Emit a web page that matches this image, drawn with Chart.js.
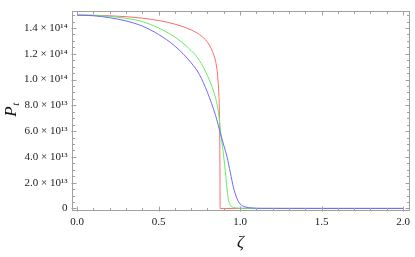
<!DOCTYPE html>
<html>
<head>
<meta charset="utf-8">
<script src="https://cdn.jsdelivr.net/npm/chart.js@4/dist/chart.umd.min.js"></script>
<style>
html,body{margin:0;padding:0;background:#fff;}
#wrap{position:relative;width:415px;height:257px;}
</style>
</head>
<body>
<div id="wrap"><canvas id="c" width="415" height="257"></canvas></div>
<script>
// ---- data ----
const zetaRed   = [0, 0.1, 0.2, 0.3, 0.4, 0.5, 0.6, 0.7, 0.75, 0.8, 0.83, 0.85, 0.86, 0.866, 0.87, 0.873, 0.875, 0.876, 0.877, 0.8775, 1.0, 1.5, 2.0];
const pRed      = [1.50e14, 1.499e14, 1.495e14, 1.488e14, 1.476e14, 1.458e14, 1.43e14, 1.385e14, 1.35e14, 1.29e14, 1.22e14, 1.14e14, 1.06e14, 0.97e14, 0.88e14, 0.78e14, 0.62e14, 0.45e14, 0.20e14, 0, 0, 0, 0];

const zetaGreen = [0, 0.1, 0.2, 0.3, 0.4, 0.5, 0.6, 0.7, 0.75, 0.8, 0.84, 0.86, 0.87, 0.88, 0.89, 0.9, 0.91, 0.92, 0.93, 0.94, 0.96, 1.0, 1.1, 1.5, 2.0];
const pGreen    = [1.50e14, 1.498e14, 1.49e14, 1.475e14, 1.45e14, 1.40e14, 1.33e14, 1.225e14, 1.15e14, 1.03e14, 0.90e14, 0.80e14, 0.72e14, 0.60e14, 0.50e14, 0.40e14, 0.28e14, 0.15e14, 0.06e14, 0.025e14, 0.008e14, 0.002e14, 0, 0, 0];

const zetaBlue  = [0, 0.1, 0.2, 0.3, 0.4, 0.5, 0.6, 0.7, 0.75, 0.8, 0.85, 0.88, 0.9, 0.92, 0.94, 0.96, 0.98, 1.0, 1.03, 1.07, 1.15, 1.5, 2.0];
const pBlue     = [1.50e14, 1.495e14, 1.48e14, 1.455e14, 1.415e14, 1.35e14, 1.26e14, 1.13e14, 1.04e14, 0.90e14, 0.72e14, 0.58e14, 0.49e14, 0.40e14, 0.28e14, 0.16e14, 0.08e14, 0.035e14, 0.012e14, 0.004e14, 0.0005e14, 0, 0];

const xTickValues = [0, 0.5, 1.0, 1.5, 2.0];
const xTickLabels = ['0.0', '0.5', '1.0', '1.5', '2.0'];
const yTickValues = [0, 2e13, 4e13, 6e13, 8e13, 1.0e14, 1.2e14, 1.4e14];
const yTickLabels = ['0', '2.0 \u00d7 10\u00b9\u00b3', '4.0 \u00d7 10\u00b9\u00b3', '6.0 \u00d7 10\u00b9\u00b3', '8.0 \u00d7 10\u00b9\u00b3', '1.0 \u00d7 10\u00b9\u2074', '1.2 \u00d7 10\u00b9\u2074', '1.4 \u00d7 10\u00b9\u2074'];
const xTitle = '\u03b6';
const yTitleMain = 'P';
const yTitleSub = 't';

function pts(xs, ys){ return xs.map((x,i)=>({x:x, y:ys[i]})); }

const FRAME = '#a0a0a0';
const SERIF = '"Liberation Serif","DejaVu Serif",serif';

const framePlugin = {
  id: 'frame',
  afterDatasetsDraw(chart){
    const ctx = chart.ctx, a = chart.chartArea;
    const xs = chart.scales.x, ys = chart.scales.y;
    ctx.save();
    ctx.strokeStyle = FRAME;
    ctx.lineWidth = 1;
    const L = Math.round(a.left)+0.5, R = Math.round(a.right)-0.5, T = Math.round(a.top)+0.5, B = Math.round(a.bottom)-0.5;
    ctx.strokeRect(L, T, R-L, B-T);
    ctx.beginPath();
    for (let k = 0; k <= 20; k++){
      const v = k/10;
      const px = Math.round(xs.getPixelForValue(v)) + 0.5;
      const major = (k % 5 === 0);
      const len = major ? 4 : 2.5;
      ctx.moveTo(px, B + (major?1:0)); ctx.lineTo(px, B - len);
      ctx.moveTo(px, T); ctx.lineTo(px, T + len);
    }
    for (let k = 0; k <= 30; k++){
      const v = k*0.5e13;
      const py = Math.round(ys.getPixelForValue(v)) + 0.5;
      if (py < T) continue;
      const major = (k % 4 === 0);
      const len = major ? 4 : 2.5;
      ctx.moveTo(L - (major?1:0), py); ctx.lineTo(L + len, py);
      ctx.moveTo(R, py); ctx.lineTo(R - len, py);
    }
    ctx.stroke();
    ctx.fillStyle = '#111';
    ctx.font = 'italic 17px ' + SERIF;
    ctx.textAlign = 'center';
    ctx.textBaseline = 'middle';
    ctx.fillText(xTitle, (a.left + a.right)/2, 243);
    ctx.translate(12, 110);
    ctx.rotate(-Math.PI/2);
    ctx.textAlign = 'left';
    ctx.font = 'italic 17px ' + SERIF;
    const w = ctx.measureText(yTitleMain).width;
    ctx.font = 'italic 11px ' + SERIF;
    const sw = ctx.measureText(yTitleSub).width;
    const start = -(w + sw)/2;
    ctx.font = 'italic 17px ' + SERIF;
    ctx.fillText(yTitleMain, start, 0);
    ctx.font = 'italic 11px ' + SERIF;
    ctx.fillText(yTitleSub, start + w + 0.5, 4);
    ctx.restore();
  }
};

const lineDs = (label, data, color) => ({
  label, data, borderColor: color, backgroundColor: color,
  borderWidth: 1, pointRadius: 0, fill: false,
  cubicInterpolationMode: 'monotone', showLine: true
});

new Chart(document.getElementById('c'), {
  type: 'scatter',
  data: {
    datasets: [
      lineDs('blue', pts(zetaBlue, pBlue), 'rgb(105,105,255)'),
      lineDs('green', pts(zetaGreen, pGreen), 'rgb(100,235,100)'),
      lineDs('red', pts(zetaRed, pRed), 'rgb(255,105,105)')
    ]
  },
  options: {
    responsive: false,
    animation: false,
    devicePixelRatio: 1,
    layout: { padding: { top: 1, right: 2, left: 0, bottom: 0 } },
    plugins: { legend: { display: false }, tooltip: { enabled: false } },
    scales: {
      x: {
        type: 'linear', min: -0.034, max: 2.04,
        grid: { display: false, drawTicks: false },
        border: { display: false },
        afterBuildTicks: s => { s.ticks = xTickValues.map(v => ({ value: v })); },
        afterFit: s => { s.height = 46; },
        ticks: {
          autoSkip: false, maxRotation: 0, padding: 5,
          color: '#222', font: { family: SERIF, size: 11 },
          callback: (v, i) => xTickLabels[i]
        }
      },
      y: {
        type: 'linear', min: -2e12, max: 1.535e14,
        grid: { display: false, drawTicks: false },
        border: { display: false },
        afterBuildTicks: s => { s.ticks = yTickValues.map(v => ({ value: v })); },
        afterFit: s => { s.width = 71.5; },
        ticks: {
          autoSkip: false, padding: 4,
          color: '#222', font: { family: SERIF, size: 11 },
          callback: (v, i) => yTickLabels[i]
        }
      }
    }
  },
  plugins: [framePlugin]
});
</script>
</body>
</html>
